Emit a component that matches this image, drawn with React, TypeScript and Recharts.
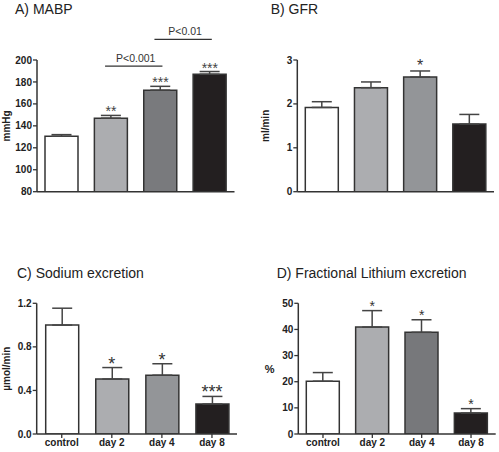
import React from 'react';
import { ComposedChart, Bar, Line, XAxis, YAxis, Cell, ErrorBar, LabelList, ReferenceLine } from 'recharts';

const groups = ['control', 'day 2', 'day 4', 'day 8'];

const mabpMean = [130.5, 147, 172.5, 187];
const mabpSem = [1.5, 2.5, 3.5, 2.5];
const mabpStars = ['', '**', '***', '***'];
const mabpTicks = [80, 100, 120, 140, 160, 180, 200];

const gfrMean = [1.92, 2.37, 2.61, 1.54];
const gfrSem = [0.13, 0.13, 0.14, 0.22];
const gfrStars = ['', '', '*', ''];
const gfrTicks = [0, 1, 2, 3];

const naMean = [1.0, 0.505, 0.54, 0.275];
const naSem = [0.155, 0.105, 0.105, 0.07];
const naStars = ['', '*', '*', '***'];
const naTicks = [0, 0.4, 0.8, 1.2];

const liMean = [20.2, 40.9, 38.9, 8.0];
const liSem = [3.3, 6.3, 4.8, 1.7];
const liStars = ['', '*', '*', '*'];
const liTicks = [0, 10, 20, 30, 40, 50];

const mabpBrackets = [
  { from: 'day 2', to: 'day 4', y: 194.5, text: 'P<0.001' },
  { from: 'day 4', to: 'day 8', y: 218.8, text: 'P<0.01' },
];

const INK = '#333';

function Panel(props: any) {
  const {
    left, top, w, h, margin, yWidth, means, sems, stars, ticks, fills,
    yLabel, yLabelX, yLabelAngle = -90, showCats, starSize, starOffset,
    starColor = '#444', tickFmt, brackets = [], title, titleX, titleY = 0.6,
  } = props;
  const data = groups.map((g, i) => ({
    name: g,
    mean: means[i],
    err: [0, sems[i]],
    top: means[i] + sems[i],
    sig: stars[i],
  }));
  return (
    <div style={{ position: 'absolute', left, top, width: w, height: h }}>
      <div style={{ position: 'absolute', left: titleX, top: titleY, fontSize: 14, lineHeight: '16px', color: '#222', whiteSpace: 'nowrap' }}>
        {title}
      </div>
      <ComposedChart width={w} height={h} data={data} margin={margin}>
        <XAxis
          dataKey="name"
          type="category"
          height={showCats ? 18 : 2}
          axisLine={{ stroke: INK, strokeWidth: 1.5 }}
          tickLine={showCats ? { stroke: INK, strokeWidth: 1.3 } : false}
          tick={showCats ? { fontSize: 10, fontWeight: 'bold', fill: '#222' } : false}
          tickSize={4}
          tickMargin={1}
          interval={0}
        />
        <YAxis
          width={yWidth}
          domain={[ticks[0], ticks[ticks.length - 1]]}
          ticks={ticks}
          allowDataOverflow
          axisLine={{ stroke: INK, strokeWidth: 1.5 }}
          tickLine={{ stroke: INK, strokeWidth: 1.3 }}
          tickSize={4}
          tickMargin={1}
          tick={{ fontSize: 10, fontWeight: 'bold', fill: '#222' }}
          tickFormatter={tickFmt}
          label={{
            value: yLabel,
            angle: yLabelAngle,
            position: 'insideLeft',
            offset: yLabelX,
            style: { textAnchor: 'middle', fontSize: yLabelAngle ? 10 : 11, fontWeight: 'bold', fill: '#222' },
          }}
        />
        <Bar dataKey="mean" barSize={33} stroke={INK} strokeWidth={1.5} isAnimationActive={false}>
          {fills.map((c: string, i: number) => (
            <Cell key={i} fill={c} />
          ))}
          <ErrorBar dataKey="err" direction="y" width={10} stroke="#444" strokeWidth={1.5} />
        </Bar>
        <Line dataKey="top" stroke="none" dot={false} activeDot={false} legendType="none" isAnimationActive={false}>
          <LabelList dataKey="sig" position="top" offset={starOffset} fill={starColor} stroke="none" fontSize={starSize} />
        </Line>
        {brackets.map((b: any) => (
          <ReferenceLine
            key={b.text}
            segment={[{ x: b.from, y: b.y }, { x: b.to, y: b.y }]}
            ifOverflow="visible"
            shape={(p: any) => (
              <line x1={p.x1 - 6} y1={p.y1} x2={p.x2 + 2} y2={p.y2} stroke={INK} strokeWidth={1.3} />
            )}
            label={{ value: b.text, position: 'top', offset: 4.5, style: { fontSize: 10.5, fill: '#333' } }}
          />
        ))}
      </ComposedChart>
    </div>
  );
}

export default function App() {
  return (
    <div
      style={{
        position: 'absolute',
        left: 0,
        top: 0,
        width: 499,
        height: 452,
        background: '#fff',
        fontFamily: '"Liberation Sans", Arial, sans-serif',
      }}
    >
      <Panel
        left={0} top={0} w={249} h={226}
        margin={{ top: 60, right: 14.5, bottom: 32.3, left: 0 }}
        yWidth={37}
        means={mabpMean} sems={mabpSem} stars={mabpStars} ticks={mabpTicks}
        fills={['#ffffff', '#acadb0', '#797a7d', '#231f20']}
        yLabel="mmHg" yLabelX={6}
        showCats={false} starSize={14} starOffset={-1}
        brackets={mabpBrackets}
        title="A) MABP" titleX={15}
      />
      <Panel
        left={249} top={0} w={250} h={226}
        margin={{ top: 60, right: 5, bottom: 32.3, left: 0 }}
        yWidth={48.3}
        means={gfrMean} sems={gfrSem} stars={gfrStars} ticks={gfrTicks}
        fills={['#ffffff', '#acadb0', '#939598', '#231f20']}
        yLabel="ml/min" yLabelX={16.7}
        showCats={false} starSize={16} starOffset={0} starColor="#333"
        title="B) GFR" titleX={21.7}
      />
      <Panel
        left={0} top={226} w={249} h={226}
        margin={{ top: 77.3, right: 12, bottom: 0, left: 0 }}
        yWidth={36.7}
        means={naMean} sems={naSem} stars={naStars} ticks={naTicks}
        tickFmt={(v: number) => v.toFixed(1)}
        fills={['#ffffff', '#acadb0', '#939598', '#231f20']}
        yLabel="µmol/min" yLabelX={6.7}
        showCats starSize={18} starOffset={-2} starColor="#333"
        title="C) Sodium excretion" titleX={17} titleY={38.8}
      />
      <Panel
        left={249} top={226} w={250} h={226}
        margin={{ top: 77.3, right: 3.3, bottom: 0, left: 0 }}
        yWidth={49.3}
        means={liMean} sems={liSem} stars={liStars} ticks={liTicks}
        fills={['#ffffff', '#acadb0', '#77787b', '#231f20']}
        yLabel="%" yLabelX={20.7} yLabelAngle={0}
        showCats starSize={14} starOffset={0} starColor="#333"
        title="D) Fractional Lithium excretion" titleX={27.7} titleY={38.8}
      />
    </div>
  );
}
